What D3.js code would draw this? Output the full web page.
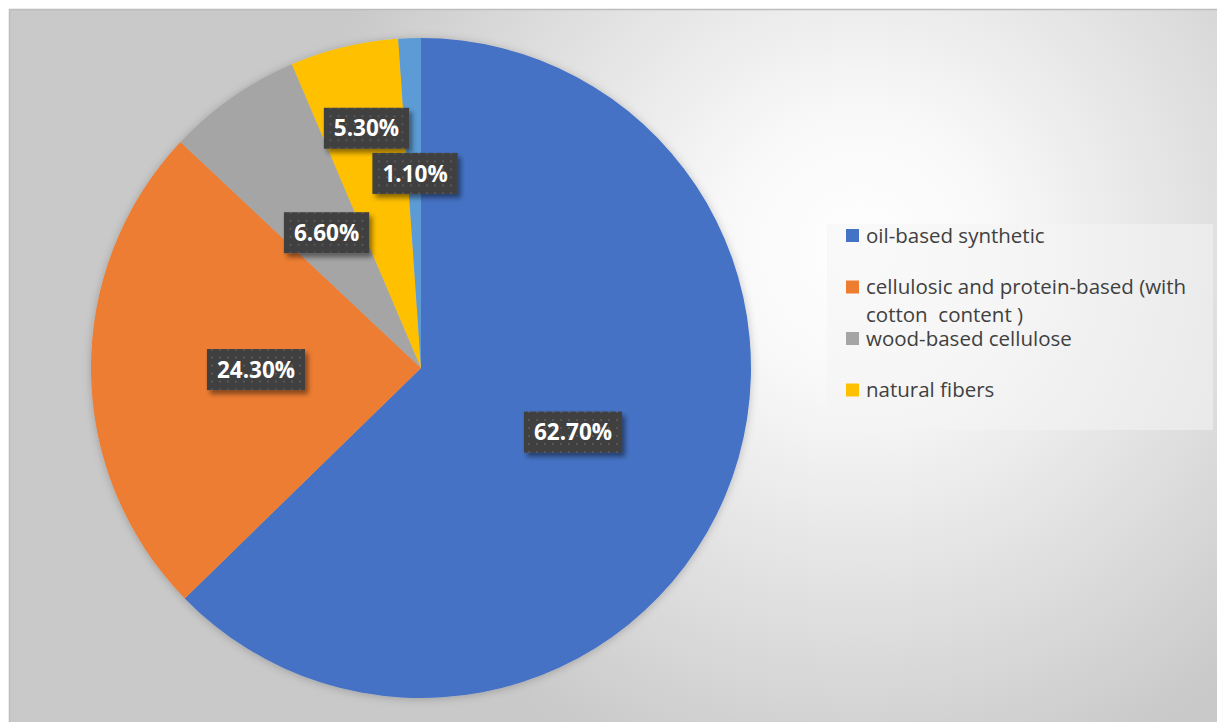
<!DOCTYPE html>
<html>
<head>
<meta charset="utf-8">
<script src="https://cdn.jsdelivr.net/npm/d3@7"></script>
<style>
  html, body { margin: 0; padding: 0; background: #ffffff; overflow: hidden; }
  svg { display: block; }
</style>
</head>
<body>
<svg id="chart" width="1217" height="722"></svg>
<script>
// Fibre composition shares (percent), clockwise from 12 o'clock
const categories = [
  "oil-based synthetic",
  "cellulosic and protein-based (with cotton  content )",
  "wood-based cellulose",
  "natural fibers",
  "other"
];
const shares = [62.7, 24.3, 6.6, 5.3, 1.1];
const valueLabels = ["62.70%", "24.30%", "6.60%", "5.30%", "1.10%"];
// Legend text as it wraps inside the legend box (only the first four fit)
const legendLines = [
  ["oil-based synthetic"],
  ["cellulosic and protein-based (with", "cotton  content )"],
  ["wood-based cellulose"],
  ["natural fibers"]
];

// Palette
const colors = ["#4472C4", "#ED7D31", "#A5A5A5", "#FFC000", "#5B9BD5"];

const svg = d3.select("#chart");
const W = 1217, H = 722;
const frame = { x: 9, y: 9 };

const defs = svg.append("defs");

// Chart-area background: soft radial gradient, bright toward the upper right
const bg = defs.append("radialGradient")
  .attr("id", "bgGrad")
  .attr("gradientUnits", "userSpaceOnUse")
  .attr("cx", 860).attr("cy", 250).attr("r", 560)
  .attr("fx", 860).attr("fy", 250);
bg.append("stop").attr("offset", "0").attr("stop-color", "#ffffff");
bg.append("stop").attr("offset", "0.25").attr("stop-color", "#f8f8f8");
bg.append("stop").attr("offset", "0.7").attr("stop-color", "#dcdcdc");
bg.append("stop").attr("offset", "1").attr("stop-color", "#c9c9c9");

// Dotted dark fill for the data-label boxes
const pat = defs.append("pattern")
  .attr("id", "dots")
  .attr("patternUnits", "userSpaceOnUse")
  .attr("width", 8).attr("height", 8);
pat.append("rect").attr("width", 8).attr("height", 8).attr("fill", "#3f3f3f");
pat.append("rect").attr("x", 3).attr("y", 3).attr("width", 2).attr("height", 2).attr("fill", "#585858");

// Shadows
const pieShadow = defs.append("filter").attr("id", "pieShadow")
  .attr("x", "-10%").attr("y", "-10%").attr("width", "120%").attr("height", "120%");
pieShadow.append("feDropShadow")
  .attr("dx", 0).attr("dy", 1).attr("stdDeviation", 4)
  .attr("flood-color", "#000").attr("flood-opacity", 0.22);

const boxShadow = defs.append("filter").attr("id", "boxShadow")
  .attr("x", "-20%").attr("y", "-30%").attr("width", "150%").attr("height", "170%");
boxShadow.append("feDropShadow")
  .attr("dx", 3).attr("dy", 4).attr("stdDeviation", 2.5)
  .attr("flood-color", "#000").attr("flood-opacity", 0.45);

// Chart area
svg.append("rect")
  .attr("x", frame.x + 0.5).attr("y", frame.y + 0.5)
  .attr("width", W - frame.x + 5).attr("height", H - frame.y + 5)
  .attr("fill", "url(#bgGrad)")
  .attr("stroke", "#bdbdbd").attr("stroke-width", 1.5);

// Pie
const cx = 421, cy = 368, R = 330;
const pie = d3.pie().sort(null).value(d => d)(shares);
const arc = d3.arc().innerRadius(0).outerRadius(R);

const gPie = svg.append("g")
  .attr("transform", `translate(${cx},${cy})`)
  .attr("filter", "url(#pieShadow)");
gPie.selectAll("path")
  .data(pie)
  .join("path")
  .attr("d", arc)
  .attr("fill", (d, i) => colors[i]);

// Data labels: centred on each slice, small slices pushed outward
const labelRadius = [0.5, 0.5, 0.5, 0.745, 0.59];
const labelShift = [0, 0, 0, 0.012, 0.004]; // extra turn (radians) for crowded labels
const gLab = svg.append("g").attr("transform", `translate(${cx},${cy})`);
pie.forEach((d, i) => {
  const a = (d.startAngle + d.endAngle) / 2 + labelShift[i];
  const r = R * labelRadius[i];
  const lx = Math.sin(a) * r, ly = -Math.cos(a) * r;
  const g = gLab.append("g").attr("transform", `translate(${lx},${ly})`);
  const box = g.append("rect").attr("fill", "url(#dots)").attr("filter", "url(#boxShadow)");
  const t = g.append("text")
    .attr("text-anchor", "middle")
    .attr("dy", "0.36em")
    .attr("fill", "#ffffff")
    .attr("font-family", "'Open Sans', 'DejaVu Sans', sans-serif")
    .attr("font-weight", 700)
    .attr("font-size", 22.5)
    .text(valueLabels[i]);
  const tw = t.node().getComputedTextLength();
  const bw = tw + 20, bh = 41;
  box.attr("x", -bw / 2).attr("y", -bh / 2).attr("width", bw).attr("height", bh);
});

// Legend
const legend = { x: 827, y: 224, w: 386, h: 206 };
svg.append("rect")
  .attr("x", legend.x).attr("y", legend.y)
  .attr("width", legend.w).attr("height", legend.h)
  .attr("fill", "#f4f4f4").attr("fill-opacity", 0.55);

const rowY = d3.scaleLinear().domain([0, 1]).range([235.5, 287]);
const gLeg = svg.append("g");
legendLines.forEach((lines, i) => {
  const y = rowY(i);
  gLeg.append("rect")
    .attr("x", 846).attr("y", y - 6.5)
    .attr("width", 13).attr("height", 13)
    .attr("fill", colors[i]);
  const t = gLeg.append("text")
    .attr("x", 866).attr("y", y)
    .attr("fill", "#404040")
    .attr("font-family", "'Open Sans', 'DejaVu Sans', sans-serif")
    .attr("font-size", 20.5)
    .style("white-space", "pre");
  lines.forEach((ln, j) => {
    t.append("tspan").attr("x", 866).attr("y", y + j * 28).attr("dy", "0.35em").text(ln);
  });
});
</script>
</body>
</html>
